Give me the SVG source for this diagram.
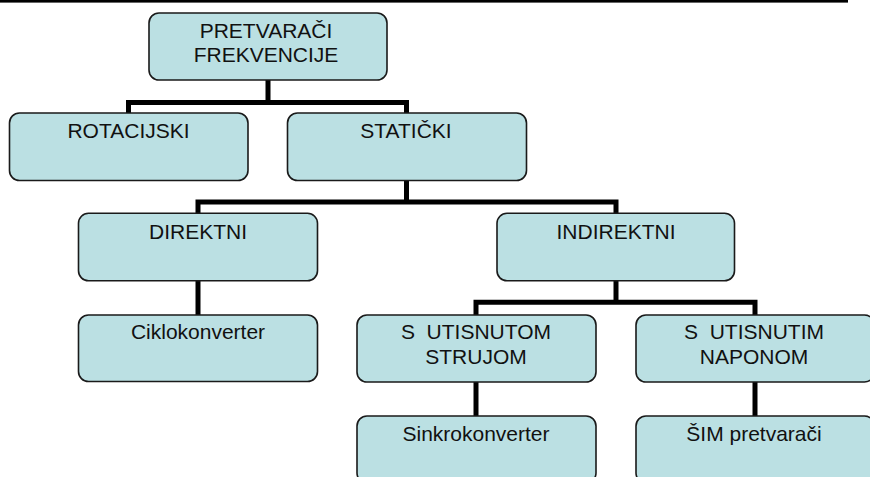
<svg xmlns="http://www.w3.org/2000/svg" width="870" height="477" viewBox="0 0 870 477">
<style>
.box{fill:#bbe0e3;stroke:#1a1a1a;stroke-width:1.6}
.t{font-family:"Liberation Sans",Arial,sans-serif;font-size:21px;fill:#111;text-anchor:middle}
.c{fill:none;stroke:#000;stroke-width:5;stroke-linejoin:miter;stroke-linecap:butt}
</style>
<rect x="0" y="0" width="848" height="2.6" fill="#000"/>
<g id="connectors">
<path class="c" d="M268 80 V102.5 M128.5 113 V102.5 H406.5 V113"/>
<path class="c" d="M406.5 180.5 V202 M198 213 V202 H616 V213"/>
<path class="c" d="M198 281 V315"/>
<path class="c" d="M616 281 V302.3 M476 315 V302.3 H755 V315"/>
<path class="c" d="M476 382 V416"/>
<path class="c" d="M755 382 V416"/>
</g>
<g id="root">
<rect class="box" x="149" y="13" width="238" height="67" rx="10"/>
<text class="t" x="266" y="37.5">PRETVARAČI</text>
<text class="t" x="266" y="61.8">FREKVENCIJE</text>
</g>
<g id="rotacijski">
<rect class="box" x="9.5" y="113" width="238.5" height="67.5" rx="10"/>
<text class="t" x="128.5" y="138.3">ROTACIJSKI</text>
</g>
<g id="staticki">
<rect class="box" x="287.5" y="113" width="239" height="67.5" rx="10"/>
<text class="t" x="406" y="137.8">STATIČKI</text>
</g>
<g id="direktni">
<rect class="box" x="78.5" y="213.3" width="239" height="67.5" rx="10"/>
<text class="t" x="198" y="238.5">DIREKTNI</text>
</g>
<g id="indirektni">
<rect class="box" x="497" y="213.3" width="237.5" height="67.5" rx="10"/>
<text class="t" x="616" y="238.5">INDIREKTNI</text>
</g>
<g id="ciklokonverter">
<rect class="box" x="78.5" y="315" width="239" height="66.5" rx="10"/>
<text class="t" x="198" y="339.3">Ciklokonverter</text>
</g>
<g id="utisnutom">
<rect class="box" x="357" y="315" width="239" height="67" rx="10"/>
<text class="t" x="476" y="339.3" xml:space="preserve">S  UTISNUTOM</text>
<text class="t" x="476" y="364">STRUJOM</text>
</g>
<g id="utisnutim">
<rect class="box" x="636" y="315" width="238.5" height="67" rx="10"/>
<text class="t" x="754" y="339.3" xml:space="preserve">S  UTISNUTIM</text>
<text class="t" x="754" y="364">NAPONOM</text>
</g>
<g id="sinkrokonverter">
<rect class="box" x="357" y="416" width="239" height="67" rx="10"/>
<text class="t" x="476" y="440.5">Sinkrokonverter</text>
</g>
<g id="sim">
<rect class="box" x="636" y="416" width="238.5" height="67" rx="10"/>
<text class="t" x="754" y="440.5">ŠIM pretvarači</text>
</g>
</svg>
